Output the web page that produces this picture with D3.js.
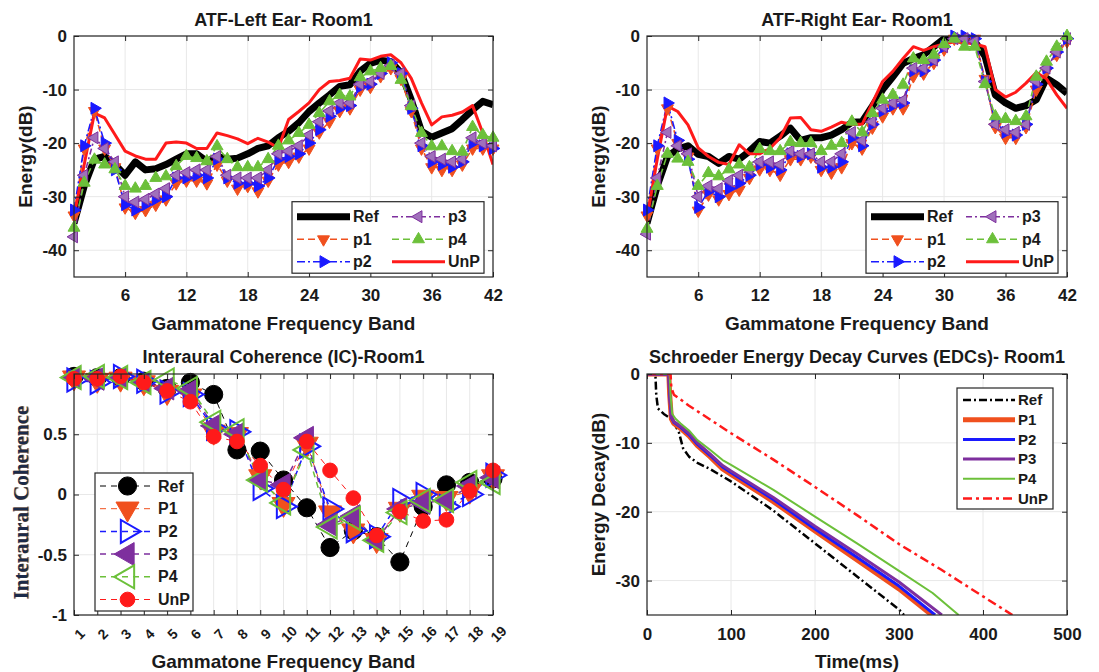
<!DOCTYPE html>
<html>
<head>
<meta charset="utf-8">
<script src="https://cdn.jsdelivr.net/npm/d3@7"></script>
<style>
body { margin: 0; background: #fff; }
svg text { font-family: "Liberation Sans", Arial, sans-serif; font-weight: bold; fill: #1a1a1a; }
</style>
</head>
<body>
<div id="mainDiv"></div>
<script>
'use strict';

// ---- data ----
var bands42 = d3.range(1, 43);
var bands19 = d3.range(1, 20);

var leftRef = [-35,-28,-23,-22.5,-24,-26,-23.5,-25,-24.8,-24,-23,-22,-22,-23.4,-22.5,-23,-22.8,-22,-21,-20.5,-19,-17.8,-16.2,-14.1,-12.5,-11,-9.4,-9.1,-6.6,-5.1,-4.5,-4.8,-6.9,-11.9,-17.8,-18.9,-18.1,-17.3,-15.6,-13.8,-12.2,-12.8];
var leftP1 = [-33.5,-21,-14,-21,-24.5,-32,-33,-32.5,-31.5,-30.5,-27.5,-27,-27,-27.5,-24,-27,-28.5,-28,-29,-27,-24,-23.5,-22.5,-21,-18,-16,-14,-13.5,-10,-9.5,-7.5,-6,-8,-14,-21,-24.5,-25,-25,-24,-21,-21,-21];
var leftP2 = [-32.5,-20.5,-13.5,-20,-25,-31.5,-32.5,-31.5,-30.5,-30,-26.5,-26.5,-26,-26.5,-23,-26.5,-27.5,-27.5,-28,-26.5,-23,-22.5,-22,-20,-17.5,-15,-13.5,-13,-9.5,-9,-7,-5,-7,-13.5,-20.5,-23.5,-24,-24.5,-23.5,-20,-20.5,-21];
var leftP3 = [-37.5,-26,-19,-21,-23.5,-30,-31,-30.5,-29.5,-28.5,-26,-25.5,-25,-25,-22.5,-26,-26.5,-26.5,-26.5,-25,-22,-21.5,-20.5,-18.5,-16,-14,-12.5,-12.5,-9,-8.5,-7,-5.5,-7,-13,-20,-22.5,-23,-23.5,-23,-19,-20,-20.5];
var leftP4 = [-35.8,-27.4,-23.1,-24,-24.9,-28,-28.5,-28,-26.5,-26.2,-24.3,-22.4,-22.8,-23.4,-20.6,-23,-24.5,-24.5,-24.5,-23,-20.5,-19.5,-18.1,-16.6,-14.4,-12.2,-11,-11.3,-7.7,-6.6,-6,-5.6,-8.2,-13.1,-18.1,-20.6,-20.6,-21.5,-21.6,-17,-18.5,-19];
var leftUnP = [-33.6,-24,-14.4,-15.3,-18.4,-21.5,-22.4,-23,-23,-20,-19.8,-20,-21,-21,-18.1,-18.6,-19.2,-20.1,-19.1,-19.8,-20.9,-15.6,-14.1,-12.5,-10,-8.5,-8.3,-7.9,-4.3,-4.5,-3.8,-3.5,-5,-7.9,-12.5,-16.6,-15.1,-14.8,-14.2,-13,-18.1,-24];

var rightRef = [-35,-28,-22.5,-21.1,-20.5,-22.1,-22.5,-23.8,-22.5,-23,-21.5,-19.7,-20,-18.7,-17.2,-19.5,-19,-19,-18.5,-17.5,-16.1,-16,-13.1,-10,-7.6,-5.1,-4.2,-3.5,-2,-0.5,0,0,-1,-3.8,-11,-12.5,-13.5,-13,-11.9,-7.9,-9.1,-10.7];
var rightP1 = [-33.5,-21,-13.5,-20,-22.5,-32.6,-29.6,-30.5,-29.5,-28.7,-26.5,-24.9,-25,-25.9,-23,-23,-22.5,-25,-25.5,-24.5,-20,-21,-17.1,-15,-13.5,-13.5,-7.5,-7,-5,-2.5,-0.5,-0.5,-0.5,-8,-17,-19,-19,-17,-10,-6.5,-3.5,-1];
var rightP2 = [-32.5,-20.5,-12.5,-19.5,-23,-32,-29,-30,-28.5,-27.5,-26,-24,-24.5,-25,-22,-22.5,-22,-24.5,-24.5,-23.5,-19,-20.5,-16.5,-14,-13,-12.5,-6.5,-6.5,-4.5,-2,0,0,-0.5,-8.5,-16,-18,-18.5,-16.5,-9,-6,-3,-0.5];
var rightP3 = [-37,-26.5,-18,-20.5,-22,-30,-28,-28.5,-27,-26,-25,-23.5,-23.5,-24,-21.5,-22,-22,-23.5,-23.5,-22,-18,-19.5,-16,-13.5,-12.5,-12,-6,-6,-4.5,-2,-0.5,-0.5,-1,-8.5,-16.5,-17.5,-18,-16.5,-8.5,-6,-3,-0.5];
var rightP4 = [-36,-28,-22,-22.9,-23.5,-28,-25.6,-26.2,-24.9,-24,-24.5,-21.1,-21.5,-21.5,-19.8,-20,-20,-21.5,-20.5,-20,-16,-18,-14.4,-11.9,-11,-9.1,-4.2,-4.5,-3.5,-1.5,-0.5,-2,-2,-9,-15,-15.5,-15.9,-15,-7.6,-4.8,-2,0];
var rightUnP = [-34,-23,-13.1,-14.1,-16.6,-20.9,-22.5,-23.6,-24,-20.3,-22,-22,-21,-19,-15.3,-15.2,-17.5,-17.8,-17,-16.1,-16.5,-16.5,-12.5,-8.5,-6.6,-4.2,-2,-2.7,-2,-1.5,-1.1,-1.2,-1.5,-2,-10,-11.4,-10.5,-8.8,-6.8,-8,-11,-13.5];

var icRef = [0.98,0.97,0.97,0.94,0.88,0.93,0.83,0.37,0.36,0.12,-0.11,-0.44,-0.3,-0.35,-0.56,-0.1,0.08,0.1,0.13];
var icP1 = [0.97,0.95,0.96,0.93,0.85,0.82,0.52,0.5,0.15,-0.08,0.42,-0.15,-0.3,-0.38,-0.12,-0.02,-0.03,0.03,0.15];
var icP2 = [0.95,0.93,0.98,0.94,0.85,0.83,0.55,0.52,0.05,-0.1,0.4,-0.12,-0.3,-0.35,-0.05,0,-0.1,0,0.16];
var icP3 = [0.97,0.96,0.97,0.93,0.88,0.86,0.57,0.5,0.12,0.08,0.47,-0.25,-0.18,-0.38,-0.12,-0.07,-0.05,0.07,0.14];
var icP4 = [0.97,0.98,0.97,0.93,0.95,0.88,0.6,0.53,0.12,-0.07,0.37,-0.27,-0.2,-0.38,-0.15,-0.05,-0.05,0.1,0.1];
var icUnP = [0.96,0.96,0.98,0.93,0.86,0.77,0.48,0.44,0.24,0.04,0.44,0.2,-0.03,-0.34,-0.14,-0.22,-0.21,0.03,0.2];

// [time ms, dB]
var edcRef = [[0,0],[10,0],[11,-3],[13,-5],[20,-5.8],[30,-6.6],[38,-8.5],[43,-10.8],[50,-12],[60,-12.9],[75,-13.8],[100,-15.6],[150,-19.8],[200,-24.6],[250,-29.4],[300,-34.2],[306,-35]];
var edcP1 = [[0,0],[26,0],[27,-3],[29,-6.5],[32,-7.2],[40,-7.9],[50,-9],[60,-10.4],[75,-12],[90,-13.8],[100,-14.6],[150,-18.5],[200,-22.8],[250,-27],[300,-31.2],[339,-35]];
var edcP2 = [[0,0],[26,0],[27,-3],[29,-6.3],[32,-7],[40,-7.7],[50,-8.8],[60,-10.2],[75,-11.8],[90,-13.5],[100,-14.3],[150,-18.2],[200,-22.5],[250,-26.6],[300,-30.8],[343,-35]];
var edcP3 = [[0,0],[26,0],[27,-3],[29,-6.2],[32,-6.9],[40,-7.6],[50,-8.6],[60,-10],[75,-11.6],[90,-13.3],[100,-14.1],[150,-17.9],[200,-22.1],[250,-26.1],[300,-30.2],[351,-35]];
var edcP4 = [[0,0],[27,0],[28,-3],[30,-5.8],[34,-6.5],[40,-7.2],[50,-8.2],[60,-9.6],[75,-11],[90,-12.5],[100,-13.2],[150,-16.8],[200,-20.7],[250,-24.6],[300,-28.6],[340,-31.8],[371,-35]];
var edcUnP = [[0,0],[28,0],[29,-2],[32,-3],[50,-4.6],[100,-8.6],[150,-12.4],[200,-16.4],[250,-20.5],[300,-24.7],[350,-28.4],[400,-32.3],[435,-35]];

var atfTicksX = [6, 12, 18, 24, 30, 36, 42];
var atfTicksY = [-40, -30, -20, -10, 0];
var icTicksY = [-1, -0.5, 0, 0.5];
var edcTicksX = [0, 100, 200, 300, 400, 500];
var edcTicksY = [-30, -20, -10, 0];

var atfNames = ['Ref', 'p1', 'p2', 'p3', 'p4', 'UnP'];
var icNames = ['Ref', 'P1', 'P2', 'P3', 'P4', 'UnP'];

// ---- styles ----
var C = { ref: '#000000', p1: '#f0501e', p2: '#1a1aff', p3: '#7e2f9e', p4: '#6cc03a', unp: '#ff1a1a' };

var atfStyles = [
    { color: C.ref, width: 7 },
    { color: C.p1, width: 1.6, dash: '7,4', marker: 'down', size: 62, fill: C.p1 },
    { color: C.p2, width: 1.6, dash: '8,3,2,3', marker: 'right', size: 62, fill: C.p2 },
    { color: C.p3, width: 1.6, dash: '6,3,2,3', marker: 'left', size: 62, fill: '#a070bb' },
    { color: C.p4, width: 1.6, dash: '7,4', marker: 'up', size: 62, fill: C.p4 },
    { color: C.unp, width: 3 }
];

var icStyles = [
    { color: C.ref, width: 1, dash: '6,5', marker: 'circle', size: 260, fill: C.ref },
    { color: C.p1, width: 1, dash: '6,5', marker: 'down', size: 230, fill: C.p1 },
    { color: C.p2, width: 1.5, dash: '6,5', marker: 'right', size: 230, fill: 'none', mw: 2 },
    { color: C.p3, width: 1.5, dash: '6,5', marker: 'left', size: 230, fill: C.p3 },
    { color: C.p4, width: 1.5, dash: '6,5', marker: 'left', size: 230, fill: 'none', mw: 2 },
    { color: C.unp, width: 1, dash: '6,5', marker: 'circle', size: 170, fill: C.unp }
];

var edcStyles = [
    { color: C.ref, width: 2.5, dash: '8,3,2,3' },
    { color: C.p1, width: 5 },
    { color: C.p2, width: 3 },
    { color: C.p3, width: 3 },
    { color: C.p4, width: 2 },
    { color: C.unp, width: 2.5, dash: '9,4,3,4' }
];

var rot = { up: 0, down: 180, right: 90, left: -90 };

var svg = d3.select('#mainDiv').append('svg')
    .attr('width', 1099)
    .attr('height', 672);

var clipCount = 0;

function makePanel(box, xDom, yDom, xTicks, yTicks, xPad)
{
    var x = d3.scaleLinear().domain(xDom).range([box.left, box.right]);
    var y = d3.scaleLinear().domain(yDom).range([box.bottom, box.top]);
    var g = svg.append('g');

    g.append('rect')
        .attr('x', box.left).attr('y', box.top)
        .attr('width', box.right - box.left).attr('height', box.bottom - box.top)
        .attr('fill', '#fff');

    g.append('g').selectAll('line').data(xTicks).enter().append('line')
        .attr('x1', function (d) { return x(d); }).attr('x2', function (d) { return x(d); })
        .attr('y1', box.top).attr('y2', box.bottom)
        .attr('stroke', '#e8e8e8').attr('stroke-width', 1);
    g.append('g').selectAll('line').data(yTicks).enter().append('line')
        .attr('y1', function (d) { return y(d); }).attr('y2', function (d) { return y(d); })
        .attr('x1', box.left).attr('x2', box.right)
        .attr('stroke', '#e8e8e8').attr('stroke-width', 1);

    var id = 'clip' + (clipCount++);
    svg.append('clipPath').attr('id', id).append('rect')
        .attr('x', box.left).attr('y', box.top)
        .attr('width', box.right - box.left).attr('height', box.bottom - box.top);

    var plot = svg.append('g');
    var lines = plot.append('g').attr('clip-path', 'url(#' + id + ')');

    var front = svg.append('g');
    var xa = front.append('g').attr('transform', 'translate(0,' + box.bottom + ')')
        .call(d3.axisBottom(x).tickValues(xTicks).tickSizeInner(-5).tickSizeOuter(0).tickPadding(xPad).tickFormat(String));
    var ya = front.append('g').attr('transform', 'translate(' + box.left + ',0)')
        .call(d3.axisLeft(y).tickValues(yTicks).tickSizeInner(-5).tickSizeOuter(0).tickPadding(7).tickFormat(String));
    front.append('g').attr('transform', 'translate(0,' + box.top + ')')
        .call(d3.axisTop(x).tickValues(xTicks).tickSizeInner(-5).tickSizeOuter(0).tickFormat(''));
    front.append('g').attr('transform', 'translate(' + box.right + ',0)')
        .call(d3.axisRight(y).tickValues(yTicks).tickSizeInner(-5).tickSizeOuter(0).tickFormat(''));
    front.selectAll('.domain').remove();
    front.selectAll('.tick line').attr('stroke', '#262626');
    front.selectAll('.tick text').attr('font-size', 17).attr('font-family', null).attr('fill', '#1a1a1a');

    front.append('rect')
        .attr('x', box.left).attr('y', box.top)
        .attr('width', box.right - box.left).attr('height', box.bottom - box.top)
        .attr('fill', 'none').attr('stroke', '#262626').attr('stroke-width', 1.2);

    return { x: x, y: y, box: box, lines: lines, plot: plot, front: front, xa: xa, ya: ya };
}

function markerPath(st)
{
    var type = st.marker === 'circle' ? d3.symbolCircle : d3.symbolTriangle;
    return d3.symbol().type(type).size(st.size)();
}

function drawMarkers(g, pts, st)
{
    g.selectAll(null).data(pts).enter().append('path')
        .attr('d', markerPath(st))
        .attr('transform', function (d) {
            return 'translate(' + d[0] + ',' + d[1] + ') rotate(' + (rot[st.marker] || 0) + ')';
        })
        .attr('fill', st.fill)
        .attr('stroke', st.color)
        .attr('stroke-width', st.mw || 1);
}

function drawSeries(p, pairs, st)
{
    var line = d3.line()
        .x(function (d) { return p.x(d[0]); })
        .y(function (d) { return p.y(d[1]); });
    p.lines.append('path').datum(pairs)
        .attr('d', line)
        .attr('fill', 'none')
        .attr('stroke', st.color)
        .attr('stroke-width', st.width)
        .attr('stroke-dasharray', st.dash || null)
        .attr('stroke-linejoin', 'round');
    if (st.marker) {
        var pts = pairs.map(function (d) { return [p.x(d[0]), p.y(d[1])]; });
        drawMarkers(p.plot, pts, st);
    }
}

function zip(xs, ys)
{
    return xs.map(function (d, i) { return [d, ys[i]]; });
}

function legendEntry(g, x1, x2, y, st, label, fs)
{
    g.append('line')
        .attr('x1', x1).attr('x2', x2).attr('y1', y).attr('y2', y)
        .attr('stroke', st.color).attr('stroke-width', st.width)
        .attr('stroke-dasharray', st.dash || null);
    if (st.marker) drawMarkers(g, [[(x1 + x2) / 2, y]], st);
    g.append('text').attr('x', x2 + 3).attr('y', y).attr('dy', '0.35em')
        .attr('font-size', fs).text(label);
}

function titles(p, title, tY, xlabel, xY, ylabel, yX)
{
    var cx = (p.box.left + p.box.right) / 2;
    var cy = (p.box.top + p.box.bottom) / 2;
    svg.append('text').attr('x', cx).attr('y', tY).attr('text-anchor', 'middle')
        .attr('font-size', 18).text(title);
    svg.append('text').attr('x', cx).attr('y', xY).attr('text-anchor', 'middle')
        .attr('font-size', 19).text(xlabel);
    if (ylabel) {
        svg.append('text').attr('transform', 'translate(' + yX + ',' + cy + ') rotate(-90)')
            .attr('text-anchor', 'middle').attr('font-size', 19).text(ylabel);
    }
}

// ---- ATF panels ----
function atfPanel(box, series, title)
{
    var p = makePanel(box, [1, 42], [-45, 0], atfTicksX, atfTicksY, 12);
    series.forEach(function (vals, i) { drawSeries(p, zip(bands42, vals), atfStyles[i]); });

    var lx = box.right - 9 - 192, ly = 201.7;
    var lg = p.front.append('g');
    lg.append('rect').attr('x', lx).attr('y', ly).attr('width', 192).attr('height', 71.5)
        .attr('fill', '#fff').attr('stroke', '#262626').attr('stroke-width', 1.2);
    var rows = [216.7, 239.3, 261.7];
    atfNames.forEach(function (n, i) {
        var col = Math.floor(i / 3), r = i % 3;
        var x1 = lx + (col === 0 ? 5 : 100);
        legendEntry(lg, x1, x1 + 53, rows[r], atfStyles[i], n, 16);
    });
    titles(p, title, 26, 'Gammatone Frequency Band', 330, 'Energy(dB)', box.left - 42);
    return p;
}

atfPanel({ left: 74, right: 493, top: 36, bottom: 277 },
    [leftRef, leftP1, leftP2, leftP3, leftP4, leftUnP], 'ATF-Left Ear- Room1');
atfPanel({ left: 647, right: 1067, top: 36, bottom: 277 },
    [rightRef, rightP1, rightP2, rightP3, rightP4, rightUnP], 'ATF-Right Ear- Room1');

// ---- IC panel ----
(function () {
    var box = { left: 74, right: 493, top: 374, bottom: 615 };
    var p = makePanel(box, [1, 19], [-1, 1], bands19, icTicksY, 8);
    p.lines.attr('clip-path', null);
    [icRef, icP1, icP2, icP3, icP4, icUnP].forEach(function (vals, i) {
        drawSeries(p, zip(bands19, vals), icStyles[i]);
    });
    p.xa.selectAll('.tick text')
        .attr('y', 0).attr('dy', '0.35em')
        .attr('text-anchor', 'middle')
        .attr('font-size', 14)
        .attr('transform', 'translate(5,19) rotate(-45)');

    var lg = p.front.append('g');
    lg.append('rect').attr('x', 95).attr('y', 473).attr('width', 98).attr('height', 138)
        .attr('fill', '#fff').attr('stroke', '#262626').attr('stroke-width', 1.2);
    icNames.forEach(function (n, i) {
        legendEntry(lg, 100, 155, 486 + i * 22.7, icStyles[i], n, 16);
    });

    titles(p, 'Interaural Coherence (IC)-Room1', 363, 'Gammatone Frequency Band', 668, null, 0);
    var cy = (box.top + box.bottom) / 2 + 8;
    svg.append('text').attr('transform', 'translate(29,' + cy + ') rotate(-90)')
        .attr('text-anchor', 'middle').attr('font-size', 21)
        .style('font-family', '"Liberation Serif", "Times New Roman", serif')
        .style('fill', '#d08a30').text('Interaural Coherence');
    svg.append('text').attr('transform', 'translate(28,' + cy + ') rotate(-90)')
        .attr('text-anchor', 'middle').attr('font-size', 21)
        .style('font-family', '"Liberation Serif", "Times New Roman", serif')
        .style('fill', '#1b2a4a').text('Interaural Coherence');
})();

// ---- EDC panel ----
(function () {
    var box = { left: 647, right: 1067, top: 374, bottom: 615 };
    var p = makePanel(box, [0, 500], [-35, 0], edcTicksX, edcTicksY, 13);
    [edcRef, edcP1, edcP2, edcP3, edcP4, edcUnP].forEach(function (pairs, i) {
        drawSeries(p, pairs, edcStyles[i]);
    });

    var lg = p.front.append('g');
    lg.append('rect').attr('x', 957).attr('y', 388).attr('width', 96).attr('height', 121)
        .attr('fill', '#fff').attr('stroke', '#262626').attr('stroke-width', 1.2);
    icNames.forEach(function (n, i) {
        legendEntry(lg, 963, 1015, 400 + i * 19.7, edcStyles[i], n, 15);
    });

    titles(p, 'Schroeder Energy Decay Curves (EDCs)- Room1', 363, 'Time(ms)', 668, 'Energy Decay(dB)', box.left - 42);
})();
</script>
</body>
</html>
